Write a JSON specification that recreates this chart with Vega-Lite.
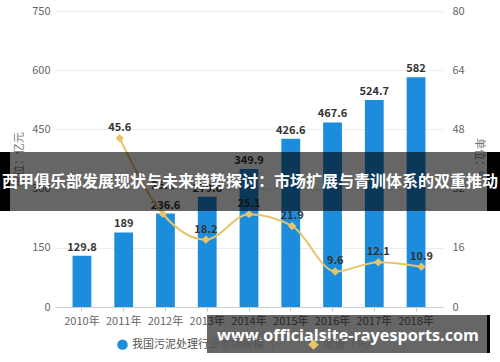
{
  "$schema": "https://vega.github.io/schema/vega-lite/v6.json",
  "width": 388,
  "height": 296,
  "autosize": {"type": "none"},
  "padding": {"left": 55, "top": 11, "right": 57, "bottom": 55},
  "background": "white",
  "config": {
    "font": "Noto Sans CJK SC",
    "view": {"stroke": null},
    "axis": {"labelColor": "#666", "labelFontSize": 11, "titleColor": "#777", "titleFontSize": 11, "titleFontWeight": "normal"}
  },
  "data": {"values": [
    {"year": "2010年", "scale": 129.8, "growth": null},
    {"year": "2011年", "scale": 189, "growth": 45.6},
    {"year": "2012年", "scale": 236.6, "growth": 25.2},
    {"year": "2013年", "scale": 279.6, "growth": 18.2},
    {"year": "2014年", "scale": 349.9, "growth": 25.1},
    {"year": "2015年", "scale": 426.6, "growth": 21.9},
    {"year": "2016年", "scale": 467.6, "growth": 9.6},
    {"year": "2017年", "scale": 524.7, "growth": 12.1},
    {"year": "2018年", "scale": 582, "growth": 10.9}
  ]},
  "layer": [
    {
      "encoding": {
        "x": {"field": "year", "type": "nominal", "sort": null, "title": null,
              "scale": {"paddingInner": 0.55, "paddingOuter": 0.42},
              "axis": {"labelAngle": 0, "domainColor": "#ccc", "tickColor": "#ccc", "tickSize": 4, "labelPadding": 4}},
        "y": {"field": "scale", "type": "quantitative", "title": "单位：亿元",
              "scale": {"domain": [0, 750], "nice": false},
              "axis": {"values": [0, 150, 300, 450, 600, 750], "orient": "left", "domain": false, "ticks": false,
                       "labelPadding": 5, "gridColor": "#ececec", "titlePadding": 7}}
      },
      "layer": [
        {"mark": {"type": "bar", "color": "#1c8ddc"},
         "encoding": {"color": {"datum": "我国污泥处理行业市场规模（亿元）", "type": "nominal",
           "scale": {"domain": ["我国污泥处理行业市场规模（亿元）", "增速（%）"], "range": ["#1c8ddc", "#e8c468"]},
           "legend": {"orient": "none", "legendX": 62, "legendY": 328, "direction": "horizontal", "title": null,
                      "labelFontSize": 11, "labelColor": "#555", "symbolSize": 110, "columnPadding": 22, "symbolStrokeWidth": 0}}}},
        {"mark": {"type": "text", "dy": -8, "fontWeight": "bold", "fontSize": 11, "color": "#333"},
         "encoding": {"text": {"field": "scale", "type": "quantitative"}}}
      ]
    },
    {
      "encoding": {
        "x": {"field": "year", "type": "nominal", "sort": null,
              "scale": {"paddingInner": 0.55, "paddingOuter": 0.42}, "axis": null},
        "y": {"field": "growth", "type": "quantitative", "title": "单位：%",
              "scale": {"domain": [0, 80], "nice": false},
              "axis": {"values": [0, 16, 32, 48, 64, 80], "orient": "right", "domain": false, "ticks": false, "grid": false,
                       "labelPadding": 9, "titlePadding": 9}}
      },
      "layer": [
        {"mark": {"type": "line", "interpolate": "monotone", "strokeWidth": 2, "color": "#e8c468"},
         "encoding": {"color": {"datum": "增速（%）", "type": "nominal"}}},
        {"mark": {"type": "point", "filled": true, "size": 70, "opacity": 1},
         "encoding": {"color": {"datum": "增速（%）", "type": "nominal"},
                      "shape": {"datum": "增速（%）", "type": "nominal",
                                "scale": {"domain": ["我国污泥处理行业市场规模（亿元）", "增速（%）"], "range": ["circle", "diamond"]}}}},
        {"transform": [{"filter": "datum.year !== '2012年'"}],
         "mark": {"type": "text", "dy": -10, "fontWeight": "bold", "fontSize": 11, "color": "#333"},
         "encoding": {"text": {"field": "growth", "type": "quantitative"}}},
        {"transform": [{"filter": "datum.year === '2012年'"}],
         "mark": {"type": "text", "dy": -28, "fontWeight": "bold", "fontSize": 11, "color": "#333"},
         "encoding": {"text": {"field": "growth", "type": "quantitative"}}}
      ]
    },
    {
      "data": {"values": [{"banner": "西甲俱乐部发展现状与未来趋势探讨：市场扩展与青训体系的双重推动", "mark": "www.officialsite-rayesports.com"}]},
      "layer": [
        {"mark": {"type": "rect", "color": "#000", "opacity": 0.6},
         "encoding": {
           "x": {"datum": -0.1418, "type": "quantitative", "scale": {"domain": [0, 1], "nice": false, "zero": false}, "axis": null},
           "x2": {"datum": 1.147},
           "y": {"datum": 392.7, "type": "quantitative", "scale": {"domain": [0, 750], "nice": false}, "axis": null},
           "y2": {"datum": 243.2}}},
        {"mark": {"type": "rect", "color": "#000", "opacity": 1},
         "encoding": {"x": {"datum": -0.1418, "type": "quantitative"}, "x2": {"datum": -0.116},
                      "y": {"datum": 392.7, "type": "quantitative"}, "y2": {"datum": 243.2}}},
        {"mark": {"type": "rect", "color": "#000", "opacity": 1},
         "encoding": {"x": {"datum": 1.1134, "type": "quantitative"}, "x2": {"datum": 1.147},
                      "y": {"datum": 392.7, "type": "quantitative"}, "y2": {"datum": 243.2}}},
        {"mark": {"type": "text", "color": "white", "fontSize": 16, "fontWeight": "bold", "align": "center", "baseline": "middle"},
         "encoding": {"x": {"datum": 0.5026, "type": "quantitative"}, "y": {"datum": 316.7, "type": "quantitative"},
                      "text": {"field": "banner"}}},
        {"mark": {"type": "rect", "color": "#000", "opacity": 0.6},
         "encoding": {"x": {"datum": 0.3918, "type": "quantitative"}, "x2": {"datum": 1.1211},
                      "y": {"datum": -20.3, "type": "quantitative"}, "y2": {"datum": -116.6}}},
        {"mark": {"type": "rect", "color": "#000", "opacity": 1},
         "encoding": {"x": {"datum": 1.1134, "type": "quantitative"}, "x2": {"datum": 1.1211},
                      "y": {"datum": -20.3, "type": "quantitative"}, "y2": {"datum": -116.6}}},
        {"mark": {"type": "text", "color": "white", "fontSize": 16.2, "fontWeight": "bold", "align": "center", "baseline": "middle", "font": "Open Sans"},
         "encoding": {"x": {"datum": 0.7552, "type": "quantitative"}, "y": {"datum": -73.5, "type": "quantitative"},
                      "text": {"field": "mark"}}}
      ]
    }
  ],
  "resolve": {"scale": {"x": "independent", "y": "independent"}}
}
